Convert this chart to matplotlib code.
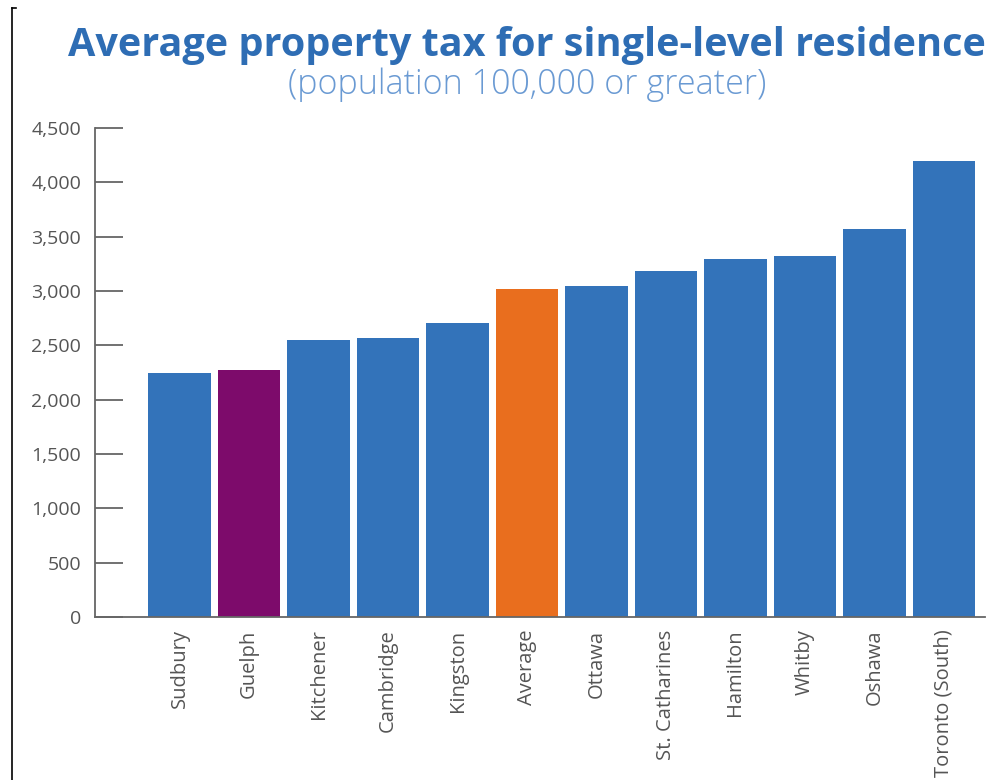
import matplotlib.pyplot as plt
from matplotlib.lines import Line2D

# data
cities = ["Sudbury", "Guelph", "Kitchener", "Cambridge", "Kingston", "Average",
          "Ottawa", "St. Catharines", "Hamilton", "Whitby", "Oshawa", "Toronto (South)"]
tax = [2250, 2270, 2550, 2565, 2710, 3015, 3045, 3180, 3295, 3320, 3570, 4195]
yticks = [0, 500, 1000, 1500, 2000, 2500, 3000, 3500, 4000, 4500]

blue = "#3373BA"
colors = [blue] * len(cities)
colors[cities.index("Guelph")] = "#7D0B6B"
colors[cities.index("Average")] = "#E96E1E"

plt.rcParams['font.family'] = ['Open Sans', 'DejaVu Sans']

fig = plt.figure(figsize=(9.91, 7.80), dpi=100)
ax = fig.add_axes([95 / 991, 1 - 617 / 780, 890 / 991, 489 / 780])

x = list(range(len(cities)))
ax.bar(x, tax, width=0.906, color=colors)

ax.set_ylim(0, 4500)
ax.set_xlim(-1.216, 11.59)
ax.set_yticks(yticks)
ax.set_yticklabels([f"{v:,}" for v in yticks])
ax.set_xticks(x)
ax.set_xticklabels(cities, rotation=90)

for s in ["top", "right"]:
    ax.spines[s].set_visible(False)
for s in ["left", "bottom"]:
    ax.spines[s].set_color("#666666")
    ax.spines[s].set_linewidth(1.3)

ax.tick_params(axis='y', direction='in', length=20, width=1.3, color="#666666",
               labelsize=14, labelcolor="#555555", pad=10)
ax.tick_params(axis='x', length=0, labelsize=14.5, labelcolor="#555555", pad=9)

fig.text(0.532, 0.942, "Average property tax for single-level residence",
         ha='center', va='center', fontsize=28.5, fontweight='bold', color="#2E6DB4")
fig.text(0.532, 0.891, "(population 100,000 or greater)",
         ha='center', va='center', fontsize=24.6, fontweight='light', color="#6A9AD3")

# thin border stub at the left edge of the scan
fig.add_artist(Line2D([12 / 991, 12 / 991], [0, 1 - 8 / 780], color="black", lw=1.2))
fig.add_artist(Line2D([12 / 991, 16 / 991], [1 - 8 / 780, 1 - 8 / 780], color="black", lw=1.2))

fig.savefig("out.png", dpi=100)
